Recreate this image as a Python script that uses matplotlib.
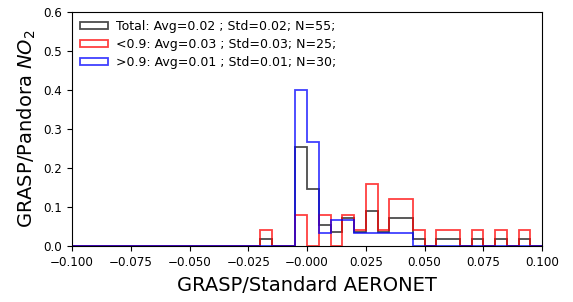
import numpy as np
import matplotlib
matplotlib.use('Agg')
import matplotlib.pyplot as plt

# bin edges: -0.1 .. 0.1, width 0.005
bin_width = 0.005

# counts per bin (left edge of bin)
red_bins = [-0.02, -0.005, 0.005, 0.015, 0.02, 0.025, 0.03, 0.035, 0.04, 0.045, 0.055, 0.06, 0.07, 0.08, 0.09]
red_counts = [1, 2, 2, 2, 1, 4, 1, 3, 3, 1, 1, 1, 1, 1, 1]
blue_bins = [-0.005, 0.0, 0.005, 0.01, 0.015, 0.02, 0.025, 0.03, 0.035, 0.04]
blue_counts = [12, 8, 1, 2, 2, 1, 1, 1, 1, 1]

labels = ['Total: Avg=0.02 ; Std=0.02; N=55;',
          '<0.9: Avg=0.03 ; Std=0.03; N=25;',
          '>0.9: Avg=0.01 ; Std=0.01; N=30;']

edges = np.round(np.arange(-0.1, 0.1 + bin_width / 2, bin_width), 4)

red_x = np.array(red_bins) + bin_width / 2
blue_x = np.array(blue_bins) + bin_width / 2
red_w = np.array(red_counts, dtype=float)
blue_w = np.array(blue_counts, dtype=float)
all_x = np.concatenate([red_x, blue_x])
all_w = np.concatenate([red_w, blue_w])

fig = plt.figure(figsize=(5.73, 3.02), dpi=100)
ax = fig.add_axes([0.1257, 0.1854, 0.8203, 0.7746])

ax.hist(all_x, bins=edges, weights=all_w / all_w.sum(), histtype='step',
        color='k', alpha=0.7, lw=1.3, label=labels[0])
ax.hist(red_x, bins=edges, weights=red_w / red_w.sum(), histtype='step',
        color='red', alpha=0.75, lw=1.3, label=labels[1])
ax.hist(blue_x, bins=edges, weights=blue_w / blue_w.sum(), histtype='step',
        color='blue', alpha=0.75, lw=1.3, label=labels[2])

ax.set_xlim(-0.1, 0.1)
ax.set_ylim(0, 0.6)
xt = np.arange(-0.1, 0.1001, 0.025)
ax.set_xticks(xt)
ax.set_xticklabels([f'{v:.3f}'.replace('-', '\u2212') for v in xt])
ax.set_yticks(np.arange(0, 0.61, 0.1))
ax.tick_params(labelsize=8.6)
ax.set_xlabel('GRASP/Standard AERONET', fontsize=14, labelpad=5)
ax.set_ylabel('GRASP/Pandora $NO_2$', fontsize=14, labelpad=4)

ax.legend(loc='upper left', frameon=False, fontsize=9, handlelength=2.2,
          handleheight=0.5, handletextpad=0.7, labelspacing=0.4,
          borderaxespad=0.25)

fig.savefig('out.png', dpi=100)
